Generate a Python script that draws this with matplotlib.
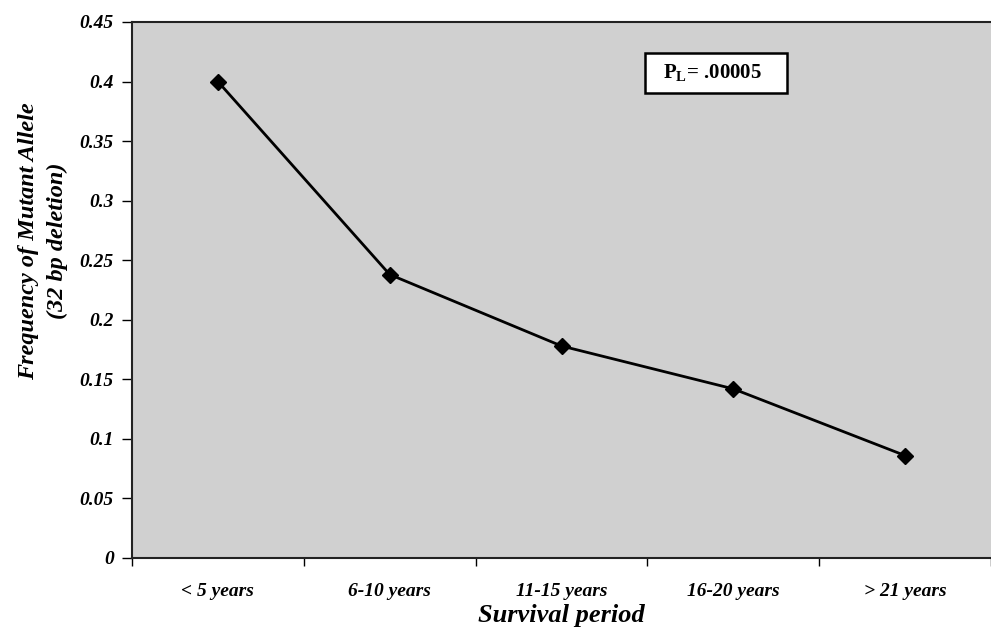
import matplotlib
matplotlib.use("Agg")
import matplotlib.pyplot as plt
from matplotlib.patches import Rectangle
import numpy as np

categories = ["< 5 years", "6-10 years", "11-15 years", "16-20 years", "> 21 years"]
frequency = [0.40, 0.238, 0.178, 0.142, 0.086]
yticks = [0, 0.05, 0.1, 0.15, 0.2, 0.25, 0.3, 0.35, 0.4, 0.45]
ytick_labels = ["0", "0.05", "0.1", "0.15", "0.2", "0.25", "0.3", "0.35", "0.4", "0.45"]

plt.rcParams['font.family'] = ['Liberation Serif', 'DejaVu Serif']
plt.rcParams['mathtext.fontset'] = 'custom'
plt.rcParams['mathtext.bf'] = 'Liberation Serif:bold'
plt.rcParams['mathtext.rm'] = 'Liberation Serif'

W, H = 991, 629
fig = plt.figure(figsize=(W / 100, H / 100), dpi=100)
ax = fig.add_axes([132 / W, 71 / H, 1 - 132 / W, 536 / H])
ax.set_facecolor("#d0d0d0")

x = np.arange(len(categories))
ax.plot(x, frequency, color="black", lw=2, marker="D", markersize=8,
        markerfacecolor="black", markeredgecolor="black", zorder=3)

ax.set_xlim(-0.5, 4.45)
ax.set_ylim(0, 0.45)
ax.set_yticks(yticks)
ax.set_yticklabels(ytick_labels, fontsize=14, fontweight="bold", fontstyle="italic")
ax.set_xticks(x)
ax.set_xticklabels(categories, fontsize=14, fontweight="bold", fontstyle="italic")
ax.tick_params(axis="x", length=0, pad=18)
ax.set_xticks(np.arange(-0.5, 5, 1), minor=True)
ax.tick_params(axis="x", which="minor", length=6, width=1, direction="out")
ax.tick_params(axis="y", length=7, width=1, direction="out", pad=6)

for s in ["left", "bottom", "top"]:
    ax.spines[s].set_linewidth(1.5)
    ax.spines[s].set_color("#222222")
ax.spines["right"].set_visible(False)

ax.set_xlabel("Survival period", fontsize=19, fontweight="bold", fontstyle="italic", labelpad=3)
fig.text(43 / W, 1 - 241 / H, "Frequency of Mutant Allele\n(32 bp deletion)", fontsize=17.5,
         fontweight="bold", fontstyle="italic", rotation=90, ha="center", va="center",
         linespacing=1.45, multialignment="center")

fig.add_artist(Rectangle((645 / W, 1 - 93 / H), 142 / W, 40 / H, transform=fig.transFigure,
                         facecolor="white", edgecolor="black", lw=1.8, zorder=5))
fig.text(713 / W, 1 - 73 / H, r"P$_{\mathbf{L}}$= .00005", ha="center", va="center",
         fontsize=15, fontweight="bold", zorder=6)

fig.savefig("out.png", dpi=100)
